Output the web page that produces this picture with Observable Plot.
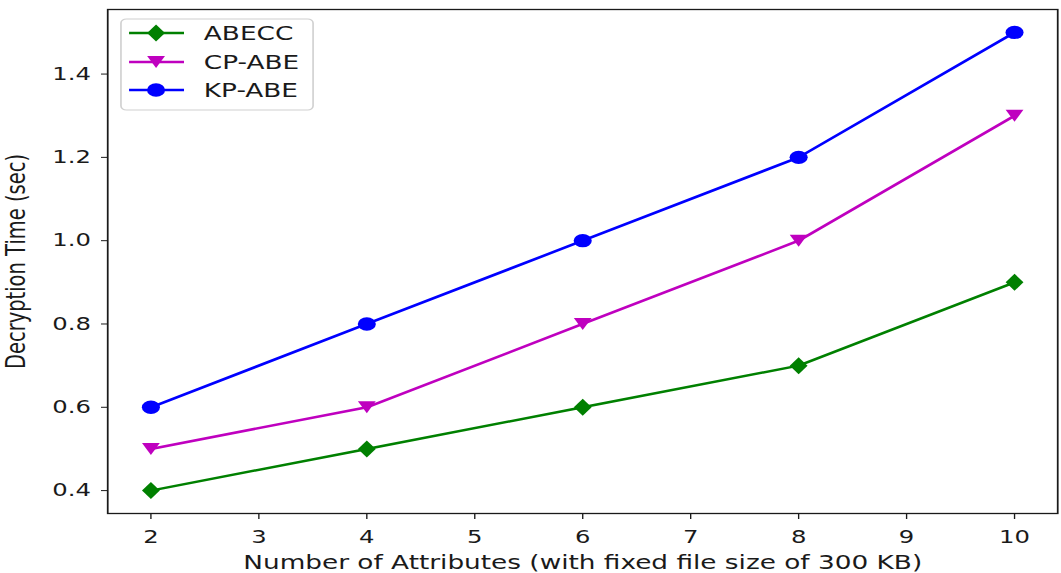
<!DOCTYPE html>
<html><head><meta charset="utf-8">
<script src="https://cdn.jsdelivr.net/npm/d3@7"></script>
<script src="https://cdn.jsdelivr.net/npm/@observablehq/plot@0.6"></script>
<style>
html,body{margin:0;padding:0;background:#fff;overflow:hidden}
#wrap{position:absolute;left:0;top:0;width:786px;height:573px;transform:scaleX(1.35);transform-origin:0 0}
</style></head><body><div id="wrap"></div>
<script>
const attributes = [2, 4, 6, 8, 10];
const abecc = [0.4, 0.5, 0.6, 0.7, 0.9];
const cpAbe = [0.5, 0.6, 0.8, 1.0, 1.3];
const kpAbe = [0.6, 0.8, 1.0, 1.2, 1.5];
const seriesNames = ["ABECC", "CP-ABE", "KP-ABE"];
const seriesColors = ["#008000", "#bf00bf", "#0000ff"];
const xTicks = [2, 3, 4, 5, 6, 7, 8, 9, 10];
const yTicks = [0.4, 0.6, 0.8, 1.0, 1.2, 1.4];
const xLabel = "Number of Attributes (with fixed file size of 300 KB)";
const yLabel = "Decryption Time (sec)";

const diamondSym = {draw(c){c.moveTo(0,-8.5);c.lineTo(6.6,0);c.lineTo(0,8.5);c.lineTo(-6.6,0);c.closePath();}};
const triDownSym = {draw(c){c.moveTo(-6.6,-6);c.lineTo(6.6,-6);c.lineTo(0,6);c.closePath();}};
const circleSym = {draw(c){c.moveTo(6.7,0);c.arc(0,0,6.7,0,2*Math.PI);c.closePath();}};
const symbols = [diamondSym, triDownSym, circleSym];
const values = [abecc, cpAbe, kpAbe];

const data = values.map((vals, s) => attributes.map((x, i) => ({x, y: vals[i], s: seriesNames[s]})));

const marks = [];
data.forEach((d, s) => {
  marks.push(Plot.line(d, {x: "x", y: "y", stroke: seriesColors[s], strokeWidth: 2.5}));
  marks.push(Plot.dot(d, {x: "x", y: "y", fill: seriesColors[s], stroke: "none", symbol: symbols[s], r: 7}));
});

const plot = Plot.plot({
  width: 786, height: 573,
  marginLeft: 79.3, marginRight: 3, marginTop: 9, marginBottom: 60,
  style: {fontFamily: "DejaVu Sans", fontSize: "18px", color: "#1a1a1a", background: "#fff"},
  x: {domain: [1.6, 10.4]},
  y: {domain: [0.345, 1.555]},
  marks: [
    Plot.axisX({ticks: xTicks, tickSize: 6, tickPadding: 11, tickFormat: d3.format("d"), label: null, stroke: "#1a1a1a", fontSize: 18}),
    Plot.axisY({ticks: yTicks, tickSize: 4.5, tickPadding: 8, tickFormat: d3.format(".1f"), label: null, stroke: "#1a1a1a", fontSize: 18}),
    Plot.axisX({ticks: [], tickSize: 0, label: xLabel, labelAnchor: "center", labelOffset: 55, labelArrow: "none", fontSize: 19.5}),
    Plot.axisY({ticks: [], tickSize: 0, label: yLabel, labelAnchor: "center", labelOffset: 75, labelArrow: "none", fontSize: 19.5}),
    ...marks,
    Plot.frame({stroke: "#1a1a1a", strokeWidth: 1.3})
  ]
});
document.getElementById("wrap").appendChild(plot);

// legend
const svg = d3.select(plot);
const lg = svg.append("g").attr("text-anchor", "start");
lg.append("rect").attr("x", 89.6).attr("y", 19).attr("width", 142.3).attr("height", 91)
  .attr("rx", 4).attr("fill", "#fff").attr("fill-opacity", 0.8).attr("stroke", "#d0d0d0").attr("stroke-width", 1.2);
const rowY = [33, 62, 90];
seriesNames.forEach((name, s) => {
  const g = lg.append("g").attr("transform", `translate(0,${rowY[s]})`);
  g.append("line").attr("x1", 95.6).attr("x2", 136.3).attr("y1", 0).attr("y2", 0).attr("stroke", seriesColors[s]).attr("stroke-width", 2.5);
  const p = d3.path(); symbols[s].draw(p);
  g.append("path").attr("d", p.toString()).attr("transform", "translate(115.6,0)").attr("fill", seriesColors[s]);
  g.append("text").attr("x", 151).attr("y", 0).attr("dy", "0.35em").attr("text-anchor", "start").attr("font-size", 19.5).attr("fill", "#1a1a1a").text(name);
});
</script></body></html>
